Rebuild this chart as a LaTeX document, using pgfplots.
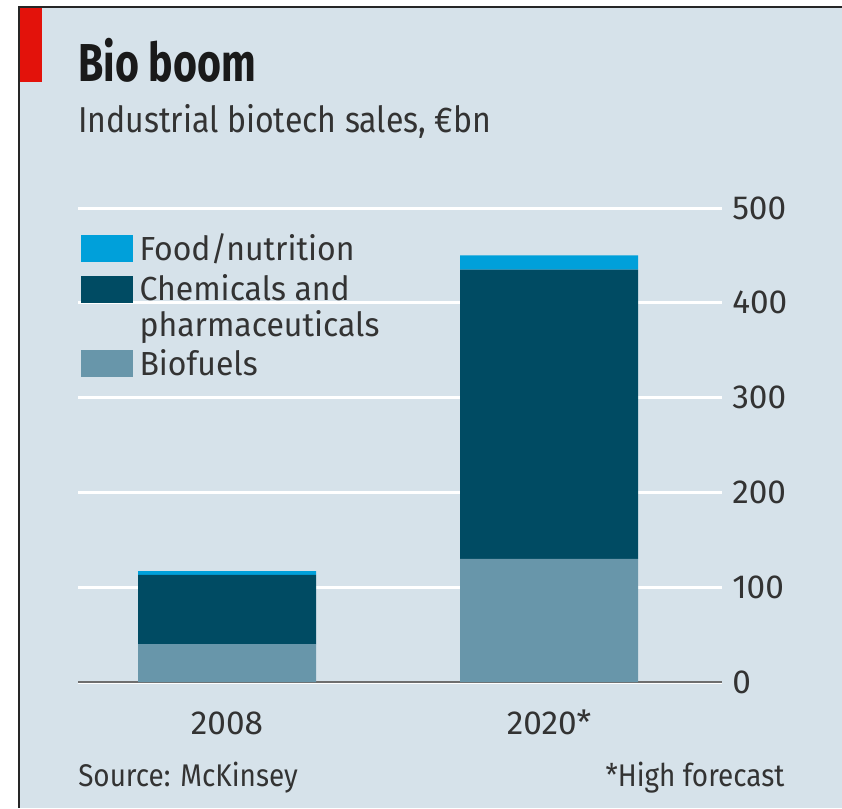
\documentclass[border=0pt]{standalone}
\usepackage{fontspec}
\setmainfont{Fira Sans}
\newfontfamily\titlefont[FakeStretch=0.77]{Fira Sans}
\newfontfamily\narrowfont[FakeStretch=0.89]{Fira Sans}
\newfontfamily\legendfont[FakeStretch=0.96]{Fira Sans}
\usepackage{pgfplots}
\pgfplotsset{compat=1.18}
\definecolor{bg}{HTML}{D6E2EA}
\definecolor{ecored}{HTML}{E3120B}
\definecolor{food}{HTML}{00A0DA}
\definecolor{chem}{HTML}{004B63}
\definecolor{bio}{HTML}{6896AA}
\definecolor{textcol}{HTML}{333333}
\definecolor{titlecol}{HTML}{1A1A1A}
\definecolor{zeroline}{HTML}{6E6E6E}
\begin{document}
\begin{tikzpicture}
\fill[white] (0pt,0pt) rectangle (631.5pt,606pt);
\useasboundingbox (0pt,0pt) rectangle (631.5pt,606pt);
\fill[bg] (13.9pt,0pt) rectangle (631.5pt,600.75pt);
\draw[line width=1.5pt, black!85] (13.9pt,0pt) -- (13.9pt,600.75pt) -- (631.5pt,600.75pt);
\fill[ecored] (15pt,544.5pt) rectangle (31.5pt,600pt);
\node[anchor=base west, inner sep=0pt, text=titlecol] at (58.5pt,544.5pt)
  {\fontsize{40}{40}\titlefont\bfseries Bio boom};
\node[anchor=base west, inner sep=0pt, text=textcol] at (58.5pt,506.25pt)
  {\fontsize{27}{27}\narrowfont Industrial biotech sales, €bn};
\node[anchor=base west, inner sep=0pt, text=textcol] at (58.5pt,16.5pt)
  {\fontsize{23.5}{23.5}\narrowfont Source: McKinsey};
\node[anchor=base east, inner sep=0pt, text=textcol] at (588.5pt,16.5pt)
  {\fontsize{23.5}{23.5}\narrowfont *High forecast};
\begin{axis}[
  at={(58.5pt,94.5pt)}, anchor=south west,
  width=483pt, height=355.5pt, scale only axis,
  ybar stacked, bar width=133.5pt,
  ymin=0, ymax=500, xmin=-0.4627, xmax=1.537,
  enlargelimits=false, clip=false,
  xtick={0,1}, xticklabels={2008,2020*},
  ytick={0,100,200,300,400,500},
  axis x line*=bottom, axis y line*=right,
  x axis line style={draw=zeroline, line width=1.5pt, -},
  y axis line style={draw=none},
  major tick length=0pt,
  ymajorgrids, grid style={white, line width=2.25pt},
  tick label style={font=\fontsize{25}{25}\selectfont, text=textcol},
  yticklabel style={anchor=west, inner sep=0pt, xshift=7.5pt},
  xticklabel style={anchor=base, inner sep=0pt, yshift=-39pt},
  /pgf/number format/assume math mode=true,
  reverse legend,
  legend image code/.code={\fill[#1] (0pt,-1.5pt) rectangle (39pt,18.75pt);},
  legend style={at={(axis description cs:0.004,0.953)}, anchor=north west,
    draw=none, fill=none, inner sep=0pt, row sep=5.35pt,
    font=\fontsize{25}{24.75}\legendfont, text=textcol,
    cells={anchor=base west},
    /tikz/every odd column/.style={column sep=3pt}},
]
\addplot[fill=bio, draw=none] coordinates {(0,40) (1,130)};
\addplot[fill=chem, draw=none] coordinates {(0,73) (1,305)};
\addplot[fill=food, draw=none] coordinates {(0,4) (1,15)};
\legend{{\rule{0pt}{45pt}Biofuels},{\begin{tabular}[t]{@{}l@{}}Chemicals and\\pharmaceuticals\end{tabular}},Food/nutrition}
\end{axis}
\end{tikzpicture}
\end{document}
